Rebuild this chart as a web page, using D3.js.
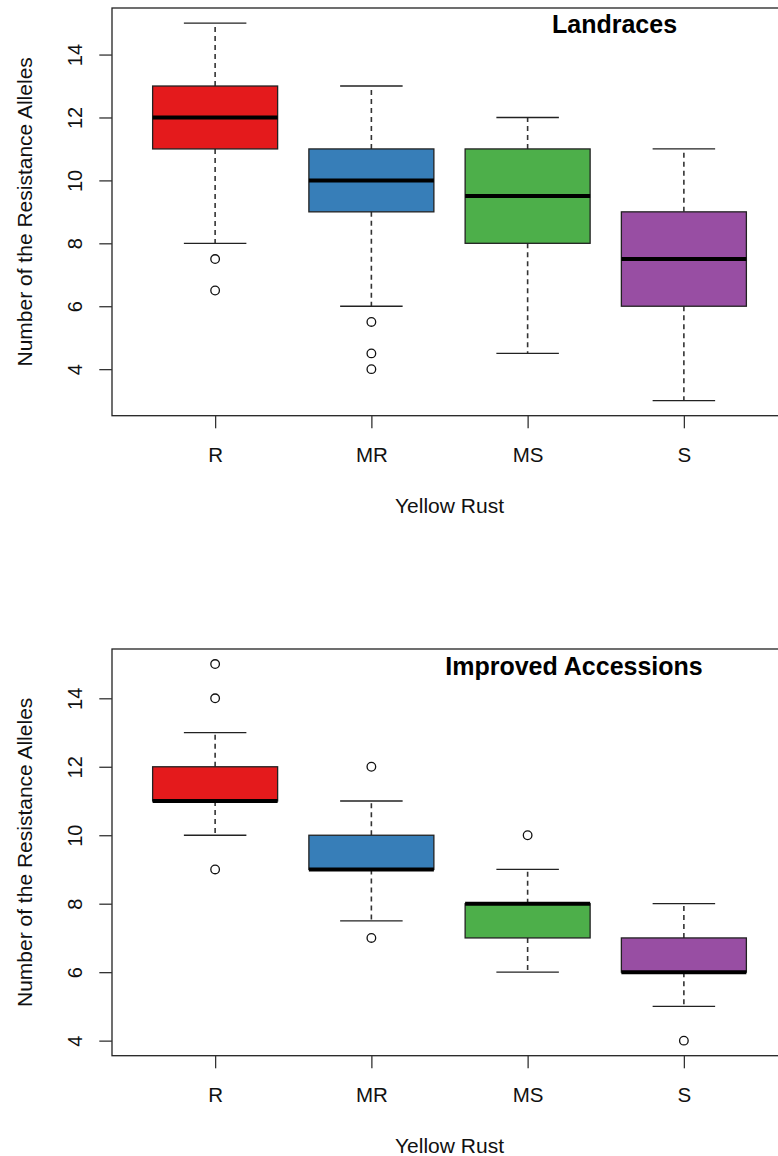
<!DOCTYPE html>
<html>
<head>
<meta charset="UTF-8">
<title>Resistance alleles by yellow rust response</title>
<script src="https://d3js.org/d3.v7.min.js"></script>
<style>
  body { margin: 0; background: #fff; }
  svg { display: block; font-family: "Liberation Sans", Arial, sans-serif; }
</style>
</head>
<body>
<svg id="chart" width="778" height="1156"></svg>
<script>
// categories and colours
const categories = ["R", "MR", "MS", "S"];
const boxColors = ["#e41a1c", "#377eb8", "#4daf4a", "#984ea3"];
const yTicks = [4, 6, 8, 10, 12, 14];

// Landraces
const landLow  = [8, 6, 4.5, 3];
const landQ1   = [11, 9, 8, 6];
const landMed  = [12, 10, 9.5, 7.5];
const landQ3   = [13, 11, 11, 9];
const landHigh = [15, 13, 12, 11];
const landOut  = [[7.5, 6.5], [5.5, 4.5, 4], [], []];

// Improved accessions
const impLow  = [10, 7.5, 6, 5];
const impQ1   = [11, 9, 7, 6];
const impMed  = [11, 9, 8, 6];
const impQ3   = [12, 10, 8, 7];
const impHigh = [13, 11, 9, 8];
const impOut  = [[15, 14, 9], [12, 7], [10], [4]];

const svg = d3.select("#chart");

function panel(opt) {
  const { top, bottom, yDomain, low, q1, med, q3, high, outs, title, titleX, titleY } = opt;
  const left = 112, right = 787;

  // x range like R: 0.5..n+0.5 with 4% extension
  const x = d3.scaleLinear().domain([0.34, 4.66]).range([left, right]);
  const y = d3.scaleLinear().domain(yDomain).range([bottom, top]);
  const step = x(2) - x(1);
  const boxW = step * 0.8;

  const g = svg.append("g");

  const rows = categories.map((c, i) => ({
    i: i + 1, low: low[i], q1: q1[i], med: med[i], q3: q3[i], high: high[i], outs: outs[i], color: boxColors[i]
  }));

  const box = g.selectAll("g.box").data(rows).join("g").attr("class", "box");

  // dashed whiskers
  box.append("line")
    .attr("x1", d => x(d.i)).attr("x2", d => x(d.i))
    .attr("y1", d => y(d.q3)).attr("y2", d => y(d.high))
    .attr("stroke", "#333").attr("stroke-width", 1.6).attr("stroke-dasharray", "5,4");
  box.append("line")
    .attr("x1", d => x(d.i)).attr("x2", d => x(d.i))
    .attr("y1", d => y(d.q1)).attr("y2", d => y(d.low))
    .attr("stroke", "#333").attr("stroke-width", 1.6).attr("stroke-dasharray", "5,4");

  // caps
  [d => d.high, d => d.low].forEach(f => {
    box.append("line")
      .attr("x1", d => x(d.i) - boxW / 4).attr("x2", d => x(d.i) + boxW / 4)
      .attr("y1", d => y(f(d))).attr("y2", d => y(f(d)))
      .attr("stroke", "#222").attr("stroke-width", 1.3);
  });

  // boxes
  box.append("rect")
    .attr("x", d => x(d.i) - boxW / 2)
    .attr("width", boxW)
    .attr("y", d => y(d.q3))
    .attr("height", d => y(d.q1) - y(d.q3))
    .attr("fill", d => d.color)
    .attr("stroke", "#222").attr("stroke-width", 1.3);

  // medians
  box.append("line")
    .attr("x1", d => x(d.i) - boxW / 2).attr("x2", d => x(d.i) + boxW / 2)
    .attr("y1", d => y(d.med)).attr("y2", d => y(d.med))
    .attr("stroke", "#000").attr("stroke-width", 4);

  // outliers
  box.selectAll("circle")
    .data(d => d.outs.map(v => ({ i: d.i, v })))
    .join("circle")
    .attr("cx", d => x(d.i)).attr("cy", d => y(d.v))
    .attr("r", 4.3)
    .attr("fill", "none").attr("stroke", "#111").attr("stroke-width", 1.3);

  // frame
  g.append("rect")
    .attr("x", left).attr("y", top)
    .attr("width", right - left).attr("height", bottom - top)
    .attr("fill", "none").attr("stroke", "#222").attr("stroke-width", 1.3);

  // y axis
  g.append("g")
    .attr("transform", `translate(${left},0)`)
    .call(d3.axisLeft(y).tickValues(yTicks).tickSize(12.7).tickSizeOuter(0))
    .call(a => a.select(".domain").remove())
    .call(a => a.selectAll(".tick line").attr("stroke", "#333").attr("stroke-width", 1.3))
    .call(a => a.selectAll(".tick text")
      .attr("x", null).attr("dy", null)
      .attr("text-anchor", "middle")
      .attr("fill", "#111")
      .attr("transform", "translate(-30,0) rotate(-90)"))
    .attr("font-size", 20).attr("font-family", null);

  // x axis
  g.append("g")
    .attr("transform", `translate(0,${bottom})`)
    .call(d3.axisBottom(x).tickValues([1, 2, 3, 4]).tickFormat(v => categories[v - 1]).tickSize(12.6).tickSizeOuter(0))
    .call(a => a.select(".domain").remove())
    .call(a => a.selectAll(".tick line").attr("stroke", "#333").attr("stroke-width", 1.3))
    .call(a => a.selectAll(".tick text").attr("y", 46.3).attr("dy", null).attr("fill", "#111"))
    .attr("font-size", 20.5).attr("font-family", null);

  // axis titles
  g.append("text")
    .attr("transform", `translate(32,${(top + bottom) / 2}) rotate(-90)`)
    .attr("text-anchor", "middle").attr("font-size", 21).attr("fill", "#111")
    .text("Number of the Resistance Alleles");

  g.append("text")
    .attr("x", (left + right) / 2).attr("y", bottom + 97.6)
    .attr("text-anchor", "middle").attr("font-size", 21).attr("fill", "#111")
    .text("Yellow Rust");

  // panel title
  g.append("text")
    .attr("x", titleX).attr("y", titleY)
    .attr("text-anchor", "middle").attr("font-size", 25).attr("font-weight", "bold").attr("fill", "#000")
    .text(title);
}

panel({
  top: 8, bottom: 415.7, yDomain: [2.52, 15.48],
  low: landLow, q1: landQ1, med: landMed, q3: landQ3, high: landHigh, outs: landOut,
  title: "Landraces", titleX: 614.5, titleY: 33.3
});

panel({
  top: 649, bottom: 1055.7, yDomain: [3.56, 15.44],
  low: impLow, q1: impQ1, med: impMed, q3: impQ3, high: impHigh, outs: impOut,
  title: "Improved Accessions", titleX: 574, titleY: 675
});
</script>
</body>
</html>
